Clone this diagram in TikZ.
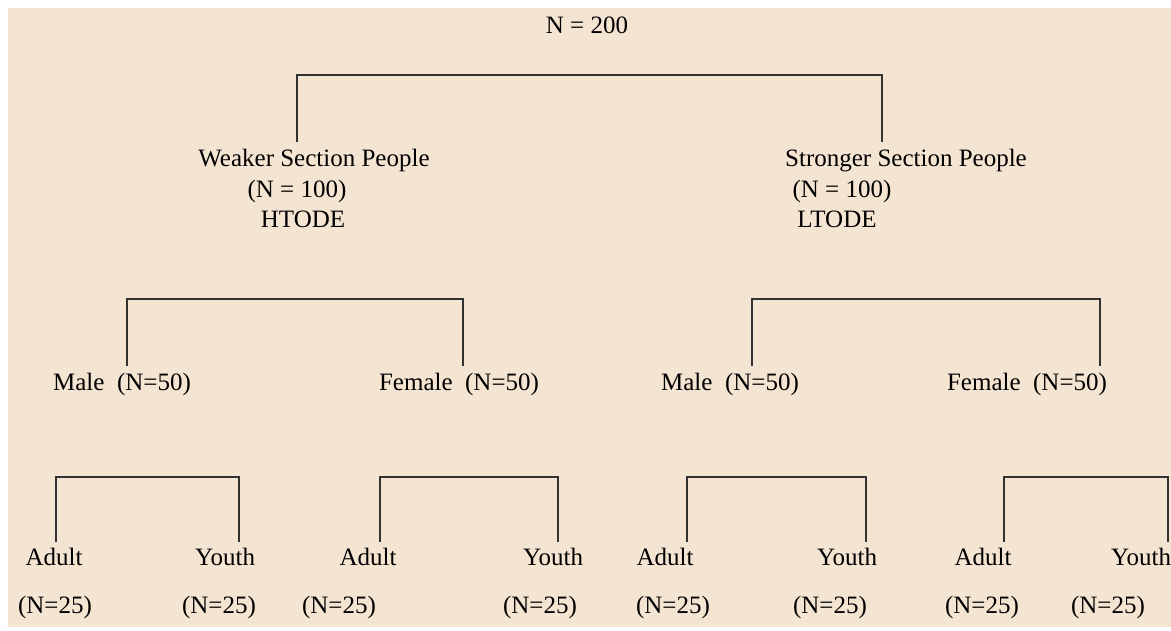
\documentclass[tikz,border=0pt]{standalone}
\usepackage{fontspec}
\setmainfont{Liberation Serif}
\definecolor{bgbeige}{RGB}{244,228,210}
\definecolor{linegray}{RGB}{50,50,50}
\begin{document}
\begin{tikzpicture}[x=1pt,y=-1pt,
  lbl/.style={inner sep=0pt, anchor=base, text=black, font=\fontsize{25}{30}\selectfont},
  conn/.style={draw=linegray, line width=1.4pt}]
\useasboundingbox (0,0) rectangle (1171,630);
\fill[white] (0,0) rectangle (1171,630);
\fill[bgbeige] (8,8) rectangle (1171,627);

% level 0
\node[lbl] (root) at (587,33) {N = 200};

% level 1
\node[lbl] (wsp) at (314,166) {Weaker Section People};
\node[lbl] (wsn) at (297,197) {(N = 100)};
\node[lbl] (wst) at (303,227) {HTODE};
\node[lbl] (ssp) at (906,166) {Stronger Section People};
\node[lbl] (ssn) at (842,197) {(N = 100)};
\node[lbl] (sst) at (837,227) {LTODE};

% level 2
\node[lbl] (wm) at (122,390) {Male\ \ (N=50)};
\node[lbl] (wf) at (459,390) {Female\ \ (N=50)};
\node[lbl] (sm) at (730,390) {Male\ \ (N=50)};
\node[lbl] (sf) at (1027,390) {Female\ \ (N=50)};

% level 3
\node[lbl] (a1) at (54,565) {Adult};
\node[lbl] (y1) at (225,565) {Youth};
\node[lbl] (a2) at (368,565) {Adult};
\node[lbl] (y2) at (553,565) {Youth};
\node[lbl] (a3) at (665,565) {Adult};
\node[lbl] (y3) at (847,565) {Youth};
\node[lbl] (a4) at (983,565) {Adult};
\node[lbl] (y4) at (1141,565) {Youth};

\node[lbl] (n1) at (55,613) {(N=25)};
\node[lbl] (n2) at (219,613) {(N=25)};
\node[lbl] (n3) at (339,613) {(N=25)};
\node[lbl] (n4) at (540,613) {(N=25)};
\node[lbl] (n5) at (673,613) {(N=25)};
\node[lbl] (n6) at (830,613) {(N=25)};
\node[lbl] (n7) at (982,613) {(N=25)};
\node[lbl] (n8) at (1108,613) {(N=25)};

% bracket bar levels
\coordinate (bar0) at (0,75);
\coordinate (bar1) at (0,299);
\coordinate (bar2) at (0,477);

% bracket feet
\coordinate (f0l) at (297,142);
\coordinate (f0r) at (882,142);
\coordinate (f1l) at (127,366);
\coordinate (f1r) at (463,366);
\coordinate (f2l) at (752,366);
\coordinate (f2r) at (1100,366);
\coordinate (f3l) at (56,542);
\coordinate (f3r) at (239,542);
\coordinate (f4l) at (380,542);
\coordinate (f4r) at (558,542);
\coordinate (f5l) at (687,542);
\coordinate (f5r) at (866,542);
\coordinate (f6l) at (1004,542);
\coordinate (f6r) at (1168,542);

\draw[conn] (f0l) -- (f0l |- bar0) -| (f0r);
\draw[conn] (f1l) -- (f1l |- bar1) -| (f1r);
\draw[conn] (f2l) -- (f2l |- bar1) -| (f2r);
\draw[conn] (f3l) -- (f3l |- bar2) -| (f3r);
\draw[conn] (f4l) -- (f4l |- bar2) -| (f4r);
\draw[conn] (f5l) -- (f5l |- bar2) -| (f5r);
\draw[conn] (f6l) -- (f6l |- bar2) -| (f6r);
\end{tikzpicture}
\end{document}
